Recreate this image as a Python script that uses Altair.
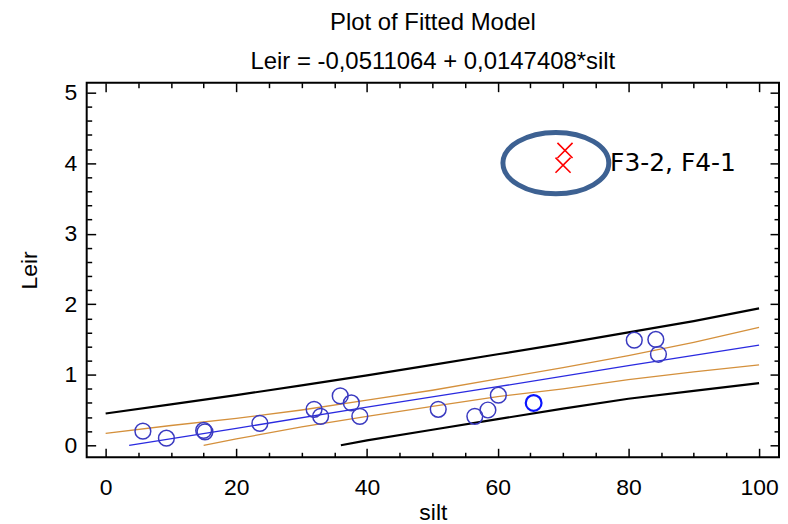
import altair as alt
import pandas as pd

# ---- observations (blue circles) ----
silt = [5.7, 9.3, 15.0, 15.2, 23.6, 31.9, 32.9, 35.9, 37.6, 38.9, 50.9, 56.5, 58.5, 60.1, 80.9, 84.2, 84.6]
leir = [0.20, 0.10, 0.21, 0.19, 0.31, 0.51, 0.41, 0.70, 0.60, 0.41, 0.51, 0.41, 0.50, 0.71, 1.49, 1.50, 1.29]
# selected observation (bright blue)
sel_silt = [65.5]
sel_leir = [0.60]
# outliers (red crosses)
out_silt = [70.3, 70.0]
out_leir = [4.18, 3.97]
# annotation ellipse and label
ring_silt = [68.9]
ring_leir = [4.0]
label_silt = [77.2]
label_leir = [4.0]
label_text = ["F3-2, F4-1"]

# ---- fitted line and limits ----
fit_silt = [3.6, 20, 40, 60, 80, 100]
fit_leir = [0.0, 0.24, 0.54, 0.83, 1.13, 1.42]
conf_up_silt = [0, 10, 20, 30, 40, 50, 60, 70, 80, 90, 100]
conf_up_leir = [0.17, 0.28, 0.38, 0.50, 0.64, 0.78, 0.94, 1.10, 1.27, 1.46, 1.67]
conf_lo_silt = [15, 20, 30, 40, 50, 60, 70, 80, 90, 100]
conf_lo_leir = [0.0, 0.09, 0.26, 0.41, 0.55, 0.69, 0.80, 0.93, 1.04, 1.14]
pred_up_silt = [0, 10, 20, 30, 40, 50, 60, 70, 80, 90, 100]
pred_up_leir = [0.45, 0.58, 0.71, 0.85, 0.99, 1.14, 1.29, 1.44, 1.60, 1.76, 1.94]
pred_lo_silt = [36, 40, 50, 60, 70, 80, 90, 100]
pred_lo_leir = [0.0, 0.07, 0.22, 0.37, 0.52, 0.66, 0.77, 0.88]

# ---- ticks ----
x_major = [0, 20, 40, 60, 80, 100]
x_minor = [5, 10, 15, 25, 30, 35, 45, 50, 55, 65, 70, 75, 85, 90, 95]
y_major = [0, 1, 2, 3, 4, 5]
y_minor = [0.2, 0.4, 0.6, 0.8, 1.2, 1.4, 1.6, 1.8, 2.2, 2.4, 2.6, 2.8,
           3.2, 3.4, 3.6, 3.8, 4.2, 4.4, 4.6, 4.8]

FONT = "Liberation Sans"
xs = alt.Scale(domain=[-2.9, 103.05], nice=False, zero=False)
ys = alt.Scale(domain=[-0.17, 5.14], nice=False, zero=False)

def tick_axis(orient, values, size, **kw):
    base = dict(orient=orient, values=values, tickSize=size, offset=-size,
                domain=False, grid=False, tickColor="black", tickWidth=1.5,
                labels=False, title="")
    base.update(kw)
    return alt.Axis(**base)

lab = dict(labels=True, labelFont=FONT, labelFontSize=23, labelColor="black",
           labelFlush=False, labelOverlap=False,
           titleFont=FONT, titleFontSize=23, titleFontWeight="normal", titleColor="black")

ax_bottom = tick_axis("bottom", x_major, 9, labelPadding=19, title="silt", titlePadding=2, **lab)
ax_bottom_minor = tick_axis("bottom", x_minor, 5)
ax_top = tick_axis("top", x_major, 9)
ax_top_minor = tick_axis("top", x_minor, 5)
ax_left = tick_axis("left", y_major, 9, labelPadding=10, title="Leir", titlePadding=23, **lab)
ax_left_minor = tick_axis("left", y_minor, 5)
ax_right = tick_axis("right", y_major, 9)
ax_right_minor = tick_axis("right", y_minor, 5)


def df(xv, yv):
    return pd.DataFrame({"silt": xv, "leir": yv})


def enc(xaxis=None, yaxis=None):
    return dict(x=alt.X("silt:Q", scale=xs, axis=xaxis),
                y=alt.Y("leir:Q", scale=ys, axis=yaxis))


pred_up = alt.Chart(df(pred_up_silt, pred_up_leir)).mark_line(
    color="black", strokeWidth=2.2).encode(**enc(ax_bottom, ax_left))
pred_lo = alt.Chart(df(pred_lo_silt, pred_lo_leir)).mark_line(
    color="black", strokeWidth=2.2).encode(**enc(ax_bottom_minor, ax_left_minor))
conf_up = alt.Chart(df(conf_up_silt, conf_up_leir)).mark_line(
    color="#d4903c", strokeWidth=1.3).encode(**enc(ax_top, ax_right))
conf_lo = alt.Chart(df(conf_lo_silt, conf_lo_leir)).mark_line(
    color="#d4903c", strokeWidth=1.3).encode(**enc(ax_top_minor, ax_right_minor))
fit = alt.Chart(df(fit_silt, fit_leir)).mark_line(
    color="#2a2ae0", strokeWidth=1.3).encode(**enc())

pts = alt.Chart(df(silt, leir)).mark_point(
    shape="circle", size=250, filled=False, color="#3a3ac0", strokeWidth=1.5, opacity=1
).encode(**enc())
sel = alt.Chart(df(sel_silt, sel_leir)).mark_point(
    shape="circle", size=250, filled=False, color="#0a14ff", strokeWidth=2.2, opacity=1
).encode(**enc())
outl = alt.Chart(df(out_silt, out_leir)).mark_point(
    shape="M-1,-1L1,1M-1,1L1,-1", size=230, filled=False, color="#ff0000",
    strokeWidth=1.6, opacity=1
).encode(**enc())
ring = alt.Chart(df(ring_silt, ring_leir)).mark_point(
    shape="M-1,0A1,0.58,0,1,1,1,0A1,0.58,0,1,1,-1,0Z", size=11300, filled=False,
    color="#3d6192", strokeWidth=5, opacity=1
).encode(**enc())
label = alt.Chart(pd.DataFrame({"silt": label_silt, "leir": label_leir, "t": label_text})).mark_text(
    align="left", baseline="middle", font="DejaVu Sans", fontSize=25, color="black"
).encode(text="t:N", **enc())

chart = alt.layer(
    pred_up, pred_lo, conf_up, conf_lo, fit, pts, sel, ring, outl, label
).resolve_axis(
    x="independent", y="independent"
).properties(
    width=695, height=376,
    autosize=alt.AutoSizeParams(type="none"),
    padding={"left": 79, "top": 74, "right": 1, "bottom": 66},
    background="white",
    title=alt.TitleParams(
        text="Plot of Fitted Model",
        subtitle="Leir = -0,0511064 + 0,0147408*silt",
        font=FONT, fontSize=24, fontWeight="normal", color="black",
        subtitleFont=FONT, subtitleFontSize=24, subtitleColor="black",
        subtitlePadding=15, anchor="middle", offset=8,
    ),
).configure_view(stroke="black", strokeWidth=2)

chart.save("out.html", embed_options={"renderer": "svg", "actions": False})
